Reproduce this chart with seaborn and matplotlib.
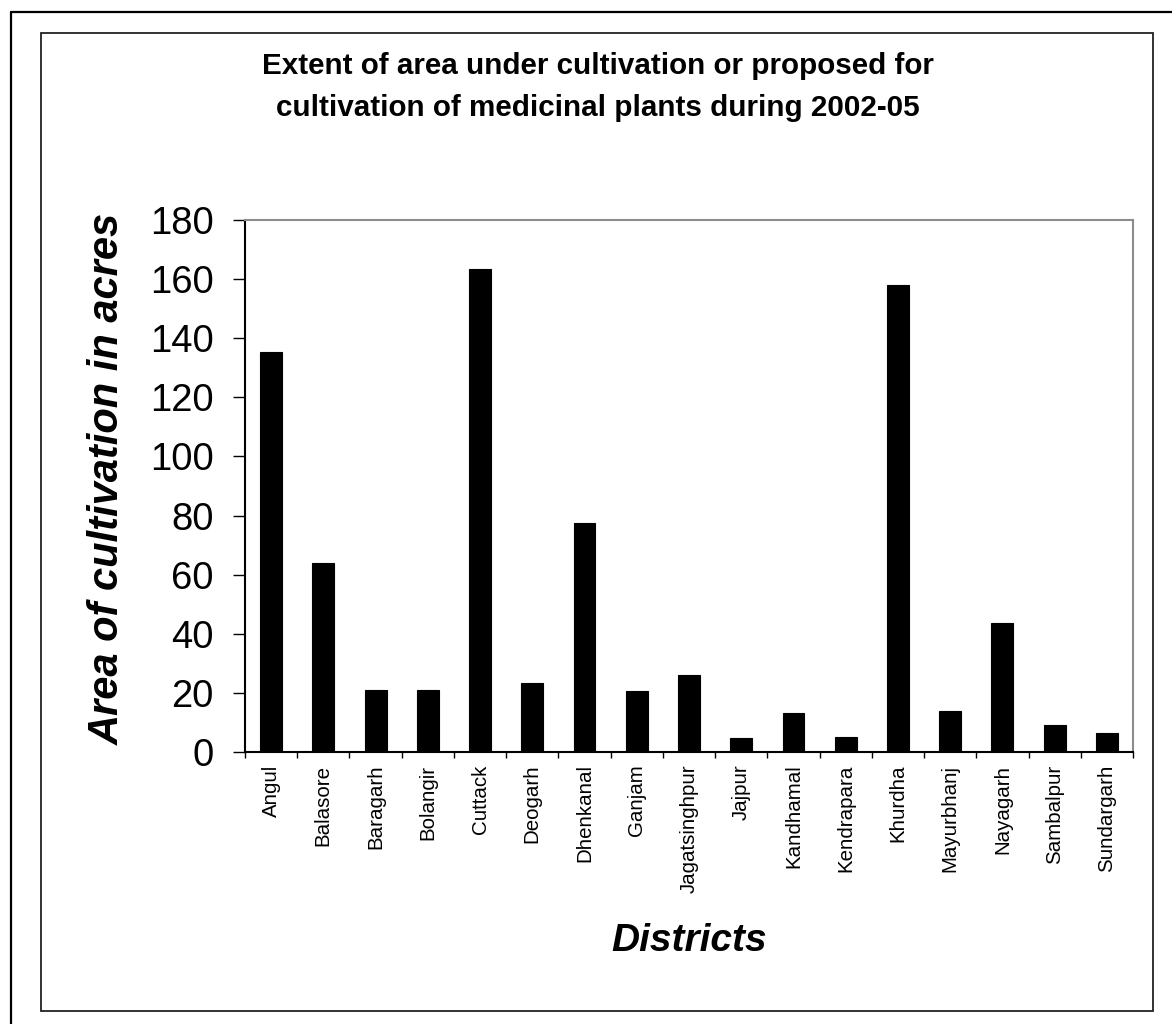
import matplotlib
matplotlib.use("Agg")
import matplotlib.pyplot as plt
import seaborn as sns
import pandas as pd
from matplotlib.patches import Rectangle
from matplotlib.lines import Line2D

# Datos
distritos = ["Angul", "Balasore", "Baragarh", "Bolangir", "Cuttack", "Deogarh",
             "Dhenkanal", "Ganjam", "Jagatsinghpur", "Jajpur", "Kandhamal",
             "Kendrapara", "Khurdha", "Mayurbhanj", "Nayagarh", "Sambalpur",
             "Sundargarh"]
area = [135.5, 63.8, 21, 21, 163.3, 23.2, 77.4, 20.5, 25.9, 4.9, 13.3, 5.1,
        158, 14, 43.8, 9, 6.4]
yticks = [0, 20, 40, 60, 80, 100, 120, 140, 160, 180]

titulo = "Extent of area under cultivation or proposed for\ncultivation of medicinal plants during 2002-05"
xlabel = "Districts"
ylabel = "Area of cultivation in acres"

df = pd.DataFrame({"Distrito": distritos, "Area": area})

sns.set_style("white")
plt.rcParams["font.family"] = ["Liberation Sans", "DejaVu Sans"]
plt.rcParams["text.color"] = "black"
plt.rcParams["xtick.color"] = "black"
plt.rcParams["ytick.color"] = "black"

W, H = 1172, 1024
fig = plt.figure(figsize=(W / 100, H / 100), dpi=100)

# Marcos exteriores
fig.add_artist(Line2D([11 / W, 11 / W], [0, 1 - 12 / H], transform=fig.transFigure,
                      color="black", lw=1.6))
fig.add_artist(Line2D([11 / W, 1], [1 - 12 / H, 1 - 12 / H], transform=fig.transFigure,
                      color="black", lw=1.6))
fig.add_artist(Rectangle((41 / W, 1 - 1011 / H), (1153 - 41) / W, (1011 - 33) / H,
                         transform=fig.transFigure, fill=False, edgecolor="#222222", lw=1.3))

# Ejes del grafico
ax = fig.add_axes([245 / W, 1 - 752 / H, (1133 - 245) / W, (752 - 220) / H])
sns.barplot(data=df, x="Distrito", y="Area", color="black", width=0.42,
            edgecolor="black", linewidth=0.8, saturation=1, ax=ax)

ax.set_ylim(0, 180)
ax.set_xlim(-0.5, len(distritos) - 0.5)
ax.set_yticks(yticks)
ax.set_yticklabels([str(v) for v in yticks], fontsize=27.5, color="black")
ax.tick_params(axis="y", direction="out", length=8.6, width=1, color="black", pad=14, left=True)

# Marcas del eje x entre categorias
ax.set_xticks(range(len(distritos)))
ax.set_xticklabels(distritos, rotation=90, fontsize=14.8, va="top", color="black")
ax.tick_params(axis="x", length=0, pad=9)
ax.set_xticks([i - 0.5 for i in range(len(distritos) + 1)], minor=True)
ax.tick_params(axis="x", which="minor", direction="out", length=4.3, width=1,
               color="black", bottom=True)

ax.set_xlabel("")
ax.set_ylabel("")

for lado in ["top", "right"]:
    ax.spines[lado].set_color("#8c8c8c")
    ax.spines[lado].set_linewidth(1.5)
for lado in ["left", "bottom"]:
    ax.spines[lado].set_color("black")
    ax.spines[lado].set_linewidth(1.5)

# Textos
fig.text(598 / W, 1 - 87 / H, titulo, ha="center", va="center", fontsize=21.3,
         fontweight="bold", linespacing=1.62, color="black")
fig.text(689 / W, 1 - 941 / H, xlabel, ha="center", va="center", fontsize=28,
         fontweight="bold", fontstyle="italic", color="black")
fig.text(108 / W, 1 - 479 / H, ylabel, ha="center", va="center", rotation=90,
         fontsize=30, fontweight="bold", fontstyle="italic", color="black")

fig.savefig("out.png", dpi=100, facecolor="white")
